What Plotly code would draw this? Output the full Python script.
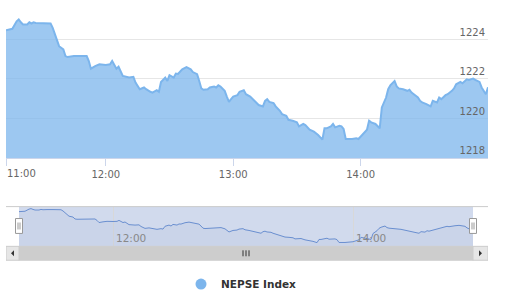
import plotly.graph_objects as go
import pandas as pd

# ---------------- data ----------------
times = [
    "11:13", "11:16", "11:18", "11:19", "11:20", "11:21", "11:23", "11:24", "11:25", "11:26",
    "11:27", "11:30", "11:33", "11:34", "11:35", "11:36", "11:37", "11:38", "11:40", "11:41",
    "11:42", "11:45", "11:49", "11:51", "11:52", "11:53", "11:55", "11:57", "12:00", "12:02",
    "12:03", "12:04", "12:05", "12:06", "12:07", "12:08", "12:11", "12:13", "12:14", "12:16",
    "12:18", "12:19", "12:21", "12:22", "12:24", "12:25", "12:26", "12:27", "12:28", "12:29",
    "12:30", "12:32", "12:33", "12:34", "12:35", "12:36", "12:38", "12:40", "12:41", "12:43",
    "12:44", "12:45", "12:46", "12:48", "12:49", "12:51", "12:52", "12:53", "12:54", "12:56",
    "12:57", "12:58", "12:59", "13:00", "13:02", "13:03", "13:05", "13:06", "13:08", "13:09",
    "13:11", "13:12", "13:14", "13:15", "13:16", "13:17", "13:19", "13:20", "13:22", "13:23",
    "13:25", "13:26", "13:28", "13:30", "13:31", "13:33", "13:34", "13:36", "13:38", "13:39",
    "13:40", "13:42", "13:43", "13:44", "13:46", "13:47", "13:48", "13:50", "13:51", "13:52",
    "13:53", "13:56", "13:58", "13:59", "14:00", "14:01", "14:03", "14:04", "14:05", "14:07",
    "14:08", "14:09", "14:10", "14:11", "14:12", "14:13", "14:14", "14:16", "14:17", "14:18",
    "14:20", "14:22", "14:23", "14:24", "14:25", "14:27", "14:28", "14:29", "14:31", "14:32",
    "14:33", "14:34", "14:36", "14:37", "14:38", "14:40", "14:41", "14:43", "14:44", "14:45",
    "14:47", "14:48", "14:50", "14:51", "14:53", "14:54", "14:56", "14:57", "14:58", "14:59",
    "15:00",
]

nepse_index = [
    1224.47, 1224.54, 1224.92, 1225.01, 1224.87, 1224.76, 1224.76, 1224.87, 1224.81, 1224.87,
    1224.84, 1224.84, 1224.84, 1224.81, 1224.59, 1224.25, 1223.91, 1223.66, 1223.50, 1223.16,
    1223.11, 1223.16, 1223.16, 1223.16, 1222.91, 1222.52, 1222.65, 1222.74, 1222.71, 1222.74,
    1222.91, 1222.69, 1222.52, 1222.62, 1222.40, 1222.15, 1222.07, 1222.11, 1221.82, 1221.48,
    1221.57, 1221.48, 1221.35, 1221.31, 1221.43, 1221.35, 1221.85, 1221.98, 1222.07, 1221.90,
    1222.19, 1222.07, 1222.27, 1222.25, 1222.40, 1222.49, 1222.60, 1222.49, 1222.35, 1222.24,
    1221.90, 1221.52, 1221.45, 1221.48, 1221.57, 1221.62, 1221.57, 1221.68, 1221.62, 1221.40,
    1221.11, 1220.84, 1220.98, 1221.11, 1221.18, 1221.35, 1221.43, 1221.23, 1221.11, 1221.01,
    1220.81, 1220.68, 1220.61, 1220.89, 1220.98, 1220.84, 1220.78, 1220.61, 1220.39, 1220.22,
    1220.14, 1219.93, 1219.88, 1219.80, 1219.60, 1219.72, 1219.67, 1219.43, 1219.33, 1219.26,
    1219.16, 1218.93, 1219.50, 1219.50, 1219.60, 1219.72, 1219.55, 1219.63, 1219.60, 1219.47,
    1218.96, 1218.96, 1219.00, 1218.96, 1219.09, 1219.21, 1219.43, 1219.88, 1219.80, 1219.72,
    1219.60, 1219.50, 1220.56, 1220.81, 1221.06, 1221.48, 1221.68, 1221.90, 1221.62, 1221.52,
    1221.48, 1221.40, 1221.45, 1221.31, 1221.23, 1221.06, 1220.89, 1220.81, 1220.73, 1220.68,
    1220.61, 1220.89, 1220.81, 1221.06, 1220.98, 1221.18, 1221.23, 1221.40, 1221.52, 1221.73,
    1221.85, 1221.78, 1221.98, 1221.95, 1222.02, 1221.95, 1221.85, 1221.57, 1221.40, 1221.23,
    1221.58,
]

series_name = "NEPSE Index"
y_tick_values = [1218, 1220, 1222, 1224]
x_tick_times = ["12:00", "13:00", "14:00"]
first_tick_label = "11:00"
nav_tick_times = ["12:00", "14:00"]
nav_range_times = ["11:06:30", "15:07:30"]
main_y_range = [1218, 1226]
nav_y_range = [1218.27, 1225.37]

DAY = "2024-01-01 "
t = pd.to_datetime([DAY + s for s in times])
x_ticks = pd.to_datetime([DAY + s for s in x_tick_times])
nav_ticks = pd.to_datetime([DAY + s for s in nav_tick_times])
nav_range = pd.to_datetime([DAY + s for s in nav_range_times])

# ---------------- layout helpers ----------------
W, H = 506, 299
ML, MR = 6, 18
PW = W - ML - MR


def py(ypix):
    return 1 - ypix / H


FONT = "DejaVu Sans"
LINE = "#7cb5ec"

fig = go.Figure()

# main area series
fig.add_trace(go.Scatter(
    x=t, y=nepse_index, mode="lines",
    line=dict(color=LINE, width=2),
    fill="tozeroy", fillcolor="rgba(124,181,236,0.75)",
    xaxis="x", yaxis="y", showlegend=False, hoverinfo="skip",
))

# navigator series
fig.add_trace(go.Scatter(
    x=t, y=nepse_index, mode="lines",
    line=dict(color="#6a8fd0", width=1),
    fill="tozeroy", fillcolor="rgba(69,114,167,0.05)",
    xaxis="x2", yaxis="y2", showlegend=False, hoverinfo="skip",
))

# legend proxy
fig.add_trace(go.Scatter(
    x=[None], y=[None], mode="markers", name=series_name,
    marker=dict(color=LINE, size=11, symbol="circle"),
    xaxis="x", yaxis="y", showlegend=True,
))

shapes = []
# navigator selection mask
shapes.append(dict(type="rect", xref="x2", yref="y2 domain", x0=t[0], x1=t[-1], y0=0, y1=1,
                   fillcolor="rgba(102,133,194,0.3)", line=dict(width=0), layer="below"))
# navigator top outline
shapes.append(dict(type="line", xref="paper", yref="paper", x0=0, x1=1, y0=py(208), y1=py(208),
                   line=dict(color="#cccccc", width=1)))
# scrollbar track
shapes.append(dict(type="rect", xref="paper", yref="paper", x0=0, x1=1, y0=py(262), y1=py(248),
                   fillcolor="#f2f2f2", line=dict(width=0)))
# scrollbar thumb
shapes.append(dict(type="rect", xref="x2", yref="paper", x0=t[0], x1=t[-1], y0=py(262), y1=py(248),
                   fillcolor="#cdcdcd", line=dict(color="#cdcdcd", width=1)))
# scrollbar buttons
shapes.append(dict(type="rect", xref="x2", yref="paper", x0=nav_range[0], x1=t[0], y0=py(262), y1=py(248),
                   fillcolor="#e6e6e6", line=dict(color="#cccccc", width=1)))
shapes.append(dict(type="rect", xref="x2", yref="paper", x0=t[-1], x1=nav_range[1], y0=py(262), y1=py(248),
                   fillcolor="#e6e6e6", line=dict(color="#cccccc", width=1)))
# arrows
mid_left = nav_range[0] + (t[0] - nav_range[0]) / 2
mid_right = t[-1] + (nav_range[1] - t[-1]) / 2
shapes.append(dict(type="path", xref="x2", yref="paper", xsizemode="pixel", ysizemode="pixel",
                   xanchor=mid_left, yanchor=py(255), path="M 1.5 -3 L -1.5 0 L 1.5 3 Z",
                   fillcolor="#333333", line=dict(width=0)))
shapes.append(dict(type="path", xref="x2", yref="paper", xsizemode="pixel", ysizemode="pixel",
                   xanchor=mid_right, yanchor=py(255), path="M -1.5 -3 L 1.5 0 L -1.5 3 Z",
                   fillcolor="#333333", line=dict(width=0)))
# rifles on thumb
mid_thumb = t[0] + (t[-1] - t[0]) / 2
for dx in (-3, 0, 3):
    shapes.append(dict(type="line", xref="x2", yref="paper", xsizemode="pixel", xanchor=mid_thumb,
                       x0=dx, x1=dx, y0=py(258), y1=py(252), line=dict(color="#333333", width=1)))
# navigator handles
for anchor in (t[0], t[-1]):
    shapes.append(dict(type="rect", xref="x2", yref="paper", xsizemode="pixel", xanchor=anchor,
                       x0=-3.5, x1=3.5, y0=py(235), y1=py(220),
                       fillcolor="#ffffff", line=dict(color="#999999", width=1)))
    for dx in (-1, 1):
        shapes.append(dict(type="line", xref="x2", yref="paper", xsizemode="pixel", xanchor=anchor,
                           x0=dx, x1=dx, y0=py(231), y1=py(224), line=dict(color="#999999", width=1)))

annotations = [dict(
    text=first_tick_label, xref="x", yref="paper", x=t[0], y=py(174.5),
    xanchor="left", yanchor="middle", showarrow=False, xshift=-1,
    font=dict(family=FONT, size=10, color="#666666"),
)]
# navigator axis labels (left-aligned just right of their grid lines)
for tv, tl in zip(nav_ticks, nav_tick_times):
    annotations.append(dict(
        text=tl, xref="x2", yref="paper", x=tv, y=py(240), xanchor="left", yanchor="middle",
        showarrow=False, xshift=1, font=dict(family=FONT, size=10.5, color="#888888"),
    ))

fig.update_layout(
    width=W, height=H,
    margin=dict(l=ML, r=MR, t=0, b=0, pad=0),
    paper_bgcolor="white", plot_bgcolor="white",
    shapes=shapes, annotations=annotations,
    xaxis=dict(
        domain=[0, 1], anchor="y", type="date", range=[t[0], t[-1]],
        tickvals=[t[0]] + list(x_ticks), ticktext=[""] + x_tick_times,
        ticks="outside", ticklen=7, tickcolor="#ccd6eb", tickwidth=1,
        showgrid=False, showline=True, linecolor="#ccd6eb", linewidth=1,
        tickfont=dict(family=FONT, size=10, color="#666666"), zeroline=False,
    ),
    yaxis=dict(
        domain=[py(159), 1], anchor="x", range=main_y_range, side="right",
        tickvals=y_tick_values, ticktext=[str(v) for v in y_tick_values],
        ticklabelposition="inside top", ticks="",
        showgrid=True, gridcolor="#e6e6e6", gridwidth=1, zeroline=False, showline=False,
        tickfont=dict(family=FONT, size=10, color="#666666"),
    ),
    xaxis2=dict(
        domain=[0, 1], anchor="y2", type="date", range=list(nav_range),
        tickvals=list(nav_ticks), showticklabels=False, ticks="",
        showgrid=True, gridcolor="#d8d8d8", gridwidth=1, showline=False, zeroline=False,
    ),
    yaxis2=dict(
        domain=[py(248), py(208)], anchor="x2", range=nav_y_range,
        showgrid=False, showticklabels=False, zeroline=False, showline=False, ticks="",
    ),
    showlegend=True,
    legend=dict(
        orientation="h", x=(181 - ML) / PW, xanchor="left", y=py(286), yanchor="middle",
        font=dict(family=FONT, size=10.5, color="#333333", weight="bold"),
        bgcolor="rgba(0,0,0,0)", borderwidth=0,
    ),
)

fig.write_html("out.html")
